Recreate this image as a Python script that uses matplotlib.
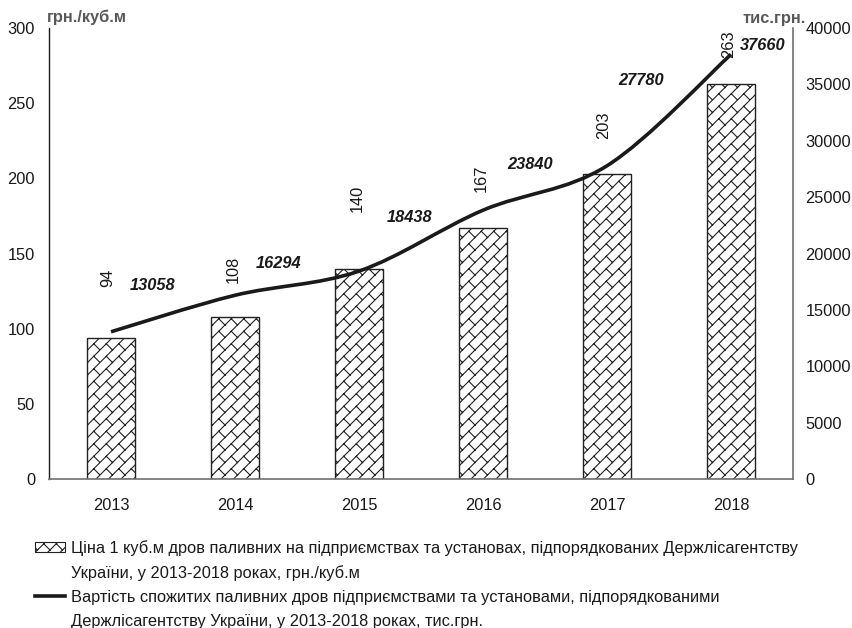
import numpy as np
import matplotlib
matplotlib.use("Agg")
import matplotlib.pyplot as plt
from matplotlib import hatch as mhatch
from matplotlib.path import Path
from matplotlib.patches import PathPatch, Patch
from matplotlib.lines import Line2D

# ---- data ----
years = ["2013", "2014", "2015", "2016", "2017", "2018"]
price_per_m3 = [94, 108, 140, 167, 203, 263]            # грн./куб.м
cost_thousand = [13058, 16294, 18438, 23840, 27780, 37660]  # тис.грн.

left_ticks = [0, 50, 100, 150, 200, 250, 300]
right_ticks = [0, 5000, 10000, 15000, 20000, 25000, 30000, 35000, 40000]

legend_bar = ["Ціна 1 куб.м дров паливних на підприємствах та установах, підпорядкованих Держлісагентству",
              "України, у 2013-2018 роках, грн./куб.м"]
legend_line = ["Вартість спожитих паливних дров підприємствами та установами, підпорядкованими",
               "Держлісагентству України, у 2013-2018 роках, тис.грн."]

# label offsets in pixels (dx, dy) from the bar top / line point
bar_label_offsets = [(-3, 60), (-2, 47), (-2, 70), (-2, 50), (-3, 49), (-2, 39)]
line_label_offsets = [(42, 46), (44, 32), (51, 54), (47, 46), (34, 85), (32, 9)]

FS = 11.8


# ---- diagonal brick hatch pattern, drawn for '/' ----
class DiagonalBrickHatch(mhatch.HatchPatternBase):
    def __init__(self, hatch, density):
        self.n = int(round(hatch.count('/') * density * 4 / 3))
        self.num_vertices = 4 * self.n * self.n if self.n else 0

    def set_vertices_and_codes(self, vertices, codes):
        n = self.n
        s = 1.0 / n
        gx, gy = np.meshgrid(np.arange(n), np.arange(n))
        x0 = gx.ravel() * s
        y0 = gy.ravel() * s
        v = np.empty((n * n, 4, 2))
        v[:, 0, 0], v[:, 0, 1] = x0, y0
        v[:, 1, 0], v[:, 1, 1] = x0 + s, y0 + s
        v[:, 2, 0], v[:, 2, 1] = x0 + s / 2, y0 + s / 2
        v[:, 3, 0], v[:, 3, 1] = x0 + s, y0
        c = np.empty((n * n, 4), dtype=codes.dtype)
        c[:, 0] = Path.MOVETO
        c[:, 1] = Path.LINETO
        c[:, 2] = Path.MOVETO
        c[:, 3] = Path.LINETO
        vertices[:] = v.reshape(-1, 2)
        codes[:] = c.ravel()


mhatch._hatch_types = [DiagonalBrickHatch]

plt.rcParams['font.family'] = ['Liberation Sans', 'DejaVu Sans']
plt.rcParams['hatch.linewidth'] = 0.8
plt.rcParams['hatch.color'] = '#111111'

W, H = 853, 628
DPI = 100
fig = plt.figure(figsize=(W / DPI, H / DPI), dpi=DPI)

ax_l, ax_r, ax_t, ax_b = 49, 793, 28, 479
ax = fig.add_axes([ax_l / W, 1 - ax_b / H, (ax_r - ax_l) / W, (ax_b - ax_t) / H])
ax2 = ax.twinx()

x = np.arange(len(years))
bars = ax.bar(x, price_per_m3, width=0.395, color='white', edgecolor='#222222',
              linewidth=1.0, hatch='/', zorder=2)

ax.set_xlim(-0.5, len(years) - 0.5)
ax.set_ylim(0, 300)
ax.set_yticks(left_ticks)
ax.set_xticks(x)
ax.set_xticklabels(years)
ax2.set_ylim(0, 40000)
ax2.set_yticks(right_ticks)

for a in (ax, ax2):
    a.spines['top'].set_visible(False)
    a.tick_params(length=0, labelsize=FS, labelcolor='#1a1a1a')
ax.spines['right'].set_visible(False)
ax2.spines['left'].set_visible(False)
ax2.spines['bottom'].set_visible(False)
ax.spines['left'].set_color('#1a1a1a')
ax.spines['left'].set_linewidth(1.0)
ax.spines['bottom'].set_color('#707070')
ax.spines['bottom'].set_linewidth(1.2)
ax2.spines['right'].set_color('#707070')
ax2.spines['right'].set_linewidth(1.2)
ax.tick_params(axis='y', pad=10)
ax.tick_params(axis='x', pad=14)
ax2.tick_params(axis='y', pad=9)

# smoothed line through the yearly values (cubic Bezier, Catmull-Rom tangents)
pts = np.column_stack([x, cost_thousand]).astype(float)
ext = np.vstack([pts[:1], pts, pts[-1:]])
verts = [tuple(pts[0])]
codes = [Path.MOVETO]
for i in range(len(pts) - 1):
    p0, p1, p2, p3 = ext[i], ext[i + 1], ext[i + 2], ext[i + 3]
    c1 = p1 + (p2 - p0) / 6.0
    c2 = p2 - (p3 - p1) / 6.0
    verts += [tuple(c1), tuple(c2), tuple(p2)]
    codes += [Path.CURVE4] * 3
line_patch = PathPatch(Path(verts, codes), fill=False, edgecolor='#1a1a1a',
                       linewidth=2.6, capstyle='butt', zorder=3)
ax2.add_patch(line_patch)

# value labels
for xi, v, (dx, dy) in zip(x, price_per_m3, bar_label_offsets):
    ax.annotate(str(v), (xi, v), xytext=(dx, dy), textcoords='offset pixels',
                rotation=90, ha='center', va='center', fontsize=FS, color='#1a1a1a')
for xi, v, (dx, dy) in zip(x, cost_thousand, line_label_offsets):
    ax2.annotate(str(v), (xi, v), xytext=(dx, dy), textcoords='offset pixels',
                 ha='center', va='center', fontsize=FS, fontweight='bold',
                 fontstyle='italic', color='#1a1a1a')

# axis units
fig.text(47 / W, 1 - 17 / H, "грн./куб.м", ha='left', va='center', fontsize=FS,
         fontweight='bold', color='#595959')
fig.text(743 / W, 1 - 18 / H, "тис.грн.", ha='left', va='center', fontsize=FS,
         fontweight='bold', color='#595959')

# legend (continuation lines get an empty handle)
blank = Patch(facecolor='none', edgecolor='none')
handles = [Patch(facecolor='white', edgecolor='#222222', hatch='/', linewidth=0.8), blank,
           Line2D([], [], color='#1a1a1a', linewidth=2.6), blank]
labels = [legend_bar[0], legend_bar[1], legend_line[0], legend_line[1]]
leg = fig.legend(handles, labels, loc='upper left', bbox_to_anchor=(35 / W, 1 - 540 / H),
                 frameon=False, fontsize=FS, handlelength=1.85, handleheight=0.55,
                 handletextpad=0.35, labelspacing=0.55, borderaxespad=0, borderpad=0,
                 labelcolor='#1a1a1a')

fig.savefig("out.png", dpi=DPI)
